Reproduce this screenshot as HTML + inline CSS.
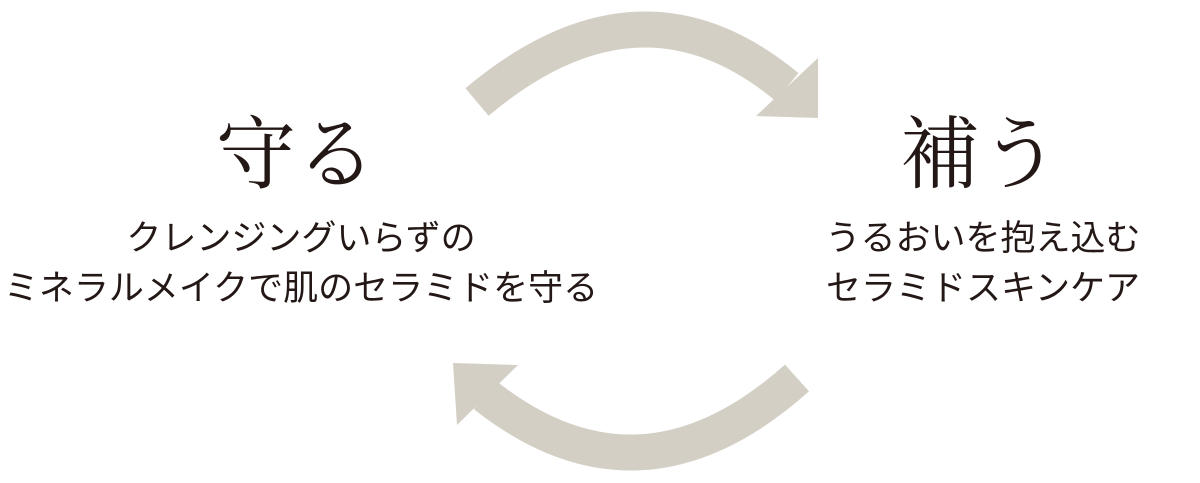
<!DOCTYPE html>
<html><head><meta charset="utf-8"><style>
body{margin:0;width:1200px;height:483px;background:#fff;position:relative;overflow:hidden;color:#231815}
.t{position:absolute;font-family:"Noto Serif CJK SC","Noto Serif CJK JP",serif;font-size:80px;line-height:1;white-space:nowrap;transform:translateX(-50%)}
.s{position:absolute;font-family:"Liberation Sans","Noto Sans CJK JP",sans-serif;font-size:35px;line-height:50px;text-align:center;white-space:nowrap;transform:translateX(-50%)}
</style></head><body>
<svg width="1200" height="483" style="position:absolute;left:0;top:0">
<path d="M477 102 Q640 -35 787 87" stroke="#d4cfc5" stroke-width="36" fill="none"/>
<polygon points="818,58 818,118 756,116" fill="#d4cfc5"/>
<path d="M797 378 Q640 518 485 395" stroke="#d4cfc5" stroke-width="36" fill="none"/>
<polygon points="453,363 518,365 457,425" fill="#d4cfc5"/>
</svg>
<div class="t" style="left:296px;top:108px">守る</div>
<div class="t" style="left:980px;top:108px">補う</div>
<div class="s" style="left:301px;top:214px">クレンジングいらずの<br>ミネラルメイクで肌のセラミドを守る</div>
<div class="s" style="left:983px;top:214px">うるおいを抱え込む<br>セラミドスキンケア</div>
</body></html>
